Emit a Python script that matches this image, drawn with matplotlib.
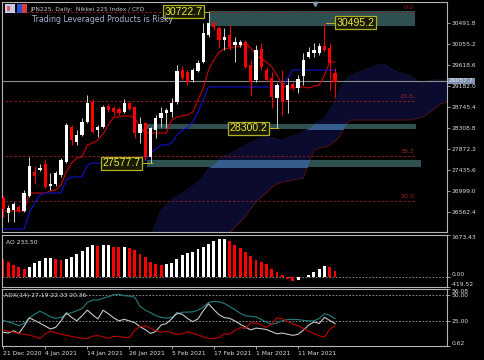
import numpy as np
import matplotlib
matplotlib.use("Agg")
import matplotlib.pyplot as plt
from matplotlib.patches import Rectangle

# ---- data (one value per daily bar, 21 Dec 2020 .. 22 Mar 2021)
opens = [26860, 26549, 26611, 26673, 26590, 26901, 27398, 27440, 27564, 27108,
         27150, 27336, 27605, 28330, 28020, 28165, 28434, 28848, 28268, 28330,
         28766, 28724, 28704, 28641, 28828, 28745, 28206, 28413, 27709, 28268,
         28517, 28621, 28641, 28848, 29512, 29470, 29304, 29491, 29677, 30237,
         30486, 30382, 30133, 30237, 30030, 30030, 30092, 29615, 29304, 29947,
         29512, 29346, 28931, 29242, 28890, 29222, 29139, 29387, 29781, 29864,
         29864, 30009, 29967, 29449]
highs = [26901, 26714, 26777, 26714, 27025, 27709, 27523, 27564, 27668, 27377,
         27419, 27688, 28413, 28372, 28268, 28517, 28994, 28911, 28372, 28786,
         28828, 28766, 28745, 28911, 28848, 28766, 28538, 28434, 28330, 28579,
         28745, 28724, 28931, 29615, 29594, 29512, 29553, 29719, 30486, 30722.7,
         30527, 30423, 30382, 30444, 30195, 30133, 30133, 29719, 30030, 30071,
         29574, 29470, 29242, 29512, 29346, 29263, 29408, 29864, 29988, 30071,
         30071, 30495.2, 30071, 29553]
lows = [26466, 26362, 26362, 26569, 26569, 26880, 27170, 27419, 27067, 27025,
        27108, 27295, 27585, 27958, 27958, 28144, 28413, 28206, 28123, 28310,
        28641, 28579, 28579, 28621, 28683, 28103, 27999, 27647, 27577.7, 28103,
        28330, 28310, 28538, 28807, 29304, 29201, 29263, 29470, 29657, 30195,
        30340, 29988, 29926, 29926, 29677, 29988, 29553, 28994, 29263, 29512,
        29263, 28724, 28300.2, 28579, 28621, 29097, 29035, 29201, 29760, 29781,
        29822, 29905, 29097, 28931]
closes = [26632, 26652, 26735, 26590, 26963, 27523, 27315, 27481, 27087, 27150,
          27377, 27647, 28372, 28061, 28165, 28434, 28828, 28227, 28330, 28745,
          28683, 28641, 28621, 28828, 28704, 28206, 28393, 27709, 28310, 28517,
          28621, 28683, 28828, 29491, 29346, 29263, 29512, 29657, 30278, 30486,
          30403, 30133, 30195, 29988, 30092, 30092, 29574, 29263, 29926, 29574,
          29304, 28952, 29201, 28848, 29201, 29139, 29325, 29719, 29885, 29926,
          30009, 29926, 29657, 29263]

tenkan = [26590, 26590, 26590, 26590, 26590, 26963, 26963, 26963, 26963, 27004,
          27025, 27129, 27398, 27585, 27688, 27709, 27958, 27999, 28061, 28186,
          28372, 28538, 28538, 28559, 28559, 28517, 28330, 28206, 28206, 28206,
          28206, 28206, 28476, 28538, 28559, 28579, 28641, 28890, 29139, 29512,
          29719, 29885, 29947, 29967, 29988, 30009, 30071, 29967, 29822, 29740,
          29677, 29574, 29408, 29201, 29139, 29139, 29160, 29160, 29139, 29180,
          29201, 29408, 29677, 29677]
kijun = [26217, 26217, 26217, 26217, 26217, 26549, 26756, 26922, 26963, 26963,
         26963, 26963, 27232, 27295, 27295, 27295, 27543, 27585, 27585, 27585,
         27585, 27585, 27585, 27585, 27585, 27585, 27585, 27647, 27792, 27875,
         27958, 27958, 27999, 28165, 28268, 28310, 28434, 28641, 28890, 29160,
         29160, 29160, 29160, 29160, 29160, 29160, 29160, 29160, 29160, 29160,
         29160, 29160, 29160, 29160, 29346, 29512, 29512, 29512, 29512, 29512,
         29512, 29512, 29512, 29512]

# Ichimoku cloud, bars 28 .. 85 (shifted forward)
cloud_x = list(range(28, 86))
span_a = [26072, 26321, 26611, 26735, 26818, 26901, 26963, 27025, 27108, 27191,
          27315, 27481, 27564, 27668, 27730, 27771, 27833, 27896, 27958, 28020,
          28061, 28123, 28123, 28103, 28082, 28061, 28103, 28144, 28186, 28248,
          28310, 28393, 28455, 28517, 28683, 28890, 29139, 29304, 29387, 29449,
          29491, 29532, 29574, 29615, 29636, 29594, 29512, 29470, 29429, 29408,
          29346, 29263, 29242, 29304, 29304, 29304, 29304, 29304]
span_b = [25300, 25350, 25400, 25450, 25500, 25560, 25620, 25680, 25740, 25800,
          25860, 25920, 25960, 26000, 26031, 26134, 26259, 26362, 26487, 26632,
          26777, 26880, 26963, 27087, 27150, 27191, 27212, 27232, 27253, 27274,
          27585, 27854, 27896, 27916, 27958, 28040, 28144, 28393, 28476, 28476,
          28476, 28476, 28476, 28476, 28476, 28476, 28476, 28476, 28476, 28476,
          28497, 28517, 28559, 28641, 28724, 28807, 28848, 28848]

ao = [690, 603, 469, 375, 308, 402, 536, 630, 737, 750,
      697, 683, 697, 804, 911, 1045, 1206, 1273, 1233, 1273,
      1280, 1193, 1179, 1190, 1166, 1072, 911, 777, 603, 496,
      456, 496, 563, 697, 871, 965, 1005, 1112, 1206, 1313,
      1434, 1501, 1508, 1447, 1273, 1139, 1005, 844, 670, 576,
      496, 295, 201, 80, -94, -174, -150, -27, 67, 201,
      295, 429, 402, 233.5]

adx = [25.7, 24, 22.5, 20.5, 22.5, 28, 31.5, 34.5, 32, 29,
       27.6, 28.5, 31.3, 33, 35, 37, 43, 45.4, 45.4, 47,
       48.6, 50.5, 51, 49.5, 49.2, 48, 39.2, 35.5, 33, 30.3,
       28.5, 27.6, 28.5, 31.5, 33.5, 33.6, 33.8, 35.5, 38.5, 42.9,
       43.9, 43.6, 42, 39, 36, 32.5, 30, 29.5, 28.9, 26.5,
       23.8, 21.8, 23, 25.3, 26.3, 26.6, 26.3, 25.6, 25.1, 25.1,
       27.5, 32, 30.5, 27.19]
plus_di = [14, 13.3, 15.5, 12.8, 20, 28, 25.5, 22.9, 20, 17.2,
           18.8, 25, 32.9, 28.5, 25.1, 30, 35.5, 31, 27, 35.4,
           32, 28, 25.1, 26.6, 25, 23.3, 19.5, 16.5, 12.8, 14.8,
           21, 22.5, 27, 32.9, 31.5, 27.5, 24.3, 27, 35, 41.7,
           36, 31, 28.2, 27.6, 25, 21.9, 19, 16.3, 18, 17.5,
           16.6, 14.5, 12.5, 13.2, 12, 11, 12, 16, 21, 24,
           22.5, 28.5, 25.5, 22.33]
minus_di = [16.3, 15, 14, 13, 12, 11.3, 9.7, 7.8, 12.5, 15,
            13.5, 12, 11, 10, 9, 8.3, 7.8, 10.2, 10.8, 9.5,
            8, 10, 10, 9, 9, 16, 19.5, 20.3, 18, 15.5,
            14, 15, 13.5, 12, 12.5, 14.5, 13, 11.3, 9.5, 8,
            7.8, 9, 12.5, 11.9, 16, 18.5, 17.8, 23, 23, 21,
            18.8, 22, 28.2, 27, 24.5, 22, 20.3, 17.5, 15, 12.8,
            10.5, 9.3, 17, 20.36]

date_bars = [0, 8, 16, 24, 32, 40, 48, 56]
date_labels = ['21 Dec 2020', '4 Jan 2021', '14 Jan 2021', '26 Jan 2021',
               '5 Feb 2021', '17 Feb 2021', '1 Mar 2021', '11 Mar 2021']

price_ticks = [30491.8, 30055.2, 29618.6, 29182.0, 28745.4, 28308.8,
               27872.2, 27435.6, 26999.0, 26562.4]

# support / resistance zones
zone_lo = [30434, 28279, 27512]
zone_hi = [30734, 28393, 27637]
zone_from = [39, 27.3, 27.3]
zone_to = [78.2, 78.4, 79.3]

# price tags
tag_prices = [30722.7, 30495.2, 28300.2, 27577.7]
tag_bars = [39, 61.3, 52.2, 28.3]

fib_high = 30722.7
fib_low = 22870
fib_levels = [0.0, 23.6, 38.2, 50.0]

line_price = 29284
line_label = '29057.7'

# ---- figure
W, H = 485, 360
fig = plt.figure(figsize=(W / 100, H / 100), dpi=100, facecolor='black')


def px_axes(x0, y0, x1, y1):
    return fig.add_axes([x0 / W, 1 - y1 / H, (x1 - x0) / W, (y1 - y0) / H])


ax = px_axes(2, 2, 447, 232)
ax_ao = px_axes(2, 235, 447, 287)
ax_adx = px_axes(2, 289, 447, 346)

FS = 4.3
GRAY = '#b4b4b4'
for a in (ax, ax_ao, ax_adx):
    a.set_facecolor('black')
    a.set_xlim(-0.19, 84.25)
    for s in a.spines.values():
        s.set_color(GRAY)
        s.set_linewidth(0.8)
    a.tick_params(axis='y', left=False, labelleft=False, right=True, labelright=True,
                  length=2, width=0.6, color=GRAY, labelcolor='#dcdcdc',
                  labelsize=FS, pad=1)
    a.tick_params(axis='x', bottom=False, labelbottom=False)

x = np.arange(len(opens))
o = np.array(opens)
c = np.array(closes)

# main panel
ax.set_ylim(26155, 30921)
ax.set_yticks(price_ticks)
ax.set_yticklabels([f'{v:.1f}' for v in price_ticks])

ax.fill_between(cloud_x, span_b, span_a, color='#0b0b30', lw=0, zorder=1)
ax.plot(cloud_x, span_b, color='#5c1010', lw=0.6, zorder=1.5)
ax.plot(cloud_x, span_a, color='#181848', lw=0.5, zorder=1.5)

for lo, hi, x0, x1 in zip(zone_lo, zone_hi, zone_from, zone_to):
    ax.add_patch(Rectangle((x0, lo), x1 - x0, hi - lo, color='#2e5050', lw=0, zorder=2))
    clip = Rectangle((x0, lo), x1 - x0, hi - lo, transform=ax.transData)
    ov = ax.fill_between(cloud_x, span_b, span_a, color='#355e8c', lw=0, zorder=2.5)
    ov.set_clip_path(clip)

span = fib_high - fib_low
for lvl in fib_levels:
    p = fib_high - span * lvl / 100
    ax.hlines(p, 0.4, 78.2, colors='#8b1a1a', linestyles=(0, (2.5, 2)), lw=0.7, zorder=3)
    ax.text(78.0, p + 40, f'{lvl:.1f}', ha='right', va='bottom', fontsize=4.6,
            color='#a02020', zorder=3)

ax.axhline(line_price, color='#8c8c8c', lw=0.8, zorder=3)
ax.text(1.004, line_price, line_label, transform=ax.get_yaxis_transform(),
        ha='left', va='center', fontsize=FS, color='#f0f0f0', zorder=10,
        bbox=dict(boxstyle='square,pad=0.15', fc='#7f93b0', ec='none'), clip_on=False)

ax.plot(x, tenkan, color='#d00000', lw=0.8, zorder=4)
ax.plot(x, kijun, color='#1010d0', lw=0.8, zorder=4)

up = c >= o
body_col = np.where(up, '#ffffff', '#ff0000')
wick_col = np.where(up, '#d0d0d0', '#ff0000')
ax.vlines(x, lows, highs, colors=wick_col, lw=0.7, zorder=5)
ax.bar(x, np.maximum(np.abs(c - o), 12), bottom=np.minimum(o, c), width=0.62,
       color=body_col, lw=0, zorder=6)

# price tags with leader lines
tag_x = [34.2, 66.9, 46.6, 22.5]
for p, bx, tx in zip(tag_prices, tag_bars, tag_x):
    ax.plot([tx, bx], [p, p], color='#b8b820', lw=0.7, zorder=6.5)
    ax.text(tx, p, f'{p:.1f}', ha='center', va='center', fontsize=7.6,
            family='Liberation Sans', color='#e8e84a', zorder=7,
            bbox=dict(boxstyle='square,pad=0.12', fc='#1a1a00', ec='#b0b020', lw=0.9))

ax.plot([59.2], [30885], marker='v', ms=3, color='#8898b8', zorder=8, clip_on=False)

# header texts and icons
fig.text(30 / W, 1 - 9 / H, 'JPN225, Daily:  Nikkei 225 Index / CFD', fontsize=4.3,
         color='#c8c8c8', va='center', ha='left')
fig.text(32 / W, 1 - 19.5 / H, 'Trading Leveraged Products is Risky', fontsize=5.6,
         color='#a8b4d4', va='center', ha='left')
fig.patches.append(Rectangle((5 / W, 1 - 13 / H), 10 / W, 9 / H, fc='#c8c8e8', ec='none',
                             transform=fig.transFigure))
fig.patches.append(Rectangle((7 / W, 1 - 11 / H), 3 / W, 5 / H, fc='#e05a5a', ec='none',
                             transform=fig.transFigure))
fig.patches.append(Rectangle((17 / W, 1 - 13 / H), 5 / W, 9 / H, fc='#3050d0', ec='none',
                             transform=fig.transFigure))
fig.patches.append(Rectangle((22 / W, 1 - 13 / H), 5 / W, 9 / H, fc='#d04040', ec='none',
                             transform=fig.transFigure))

# AO panel
ao_arr = np.array(ao)
ao_up = np.concatenate([[False], np.diff(ao_arr) > 0])
ax_ao.set_ylim(-419.52, 1673.43)
ax_ao.axhline(0, color='#9a9a9a', lw=0.6, ls=(0, (2, 2)), zorder=0)
ax_ao.bar(x, ao_arr, width=0.55, color=np.where(ao_up, '#ffffff', '#ff0000'), lw=0, zorder=2)
ax_ao.set_yticks([1673.43, 0, -419.52])
ax_ao.set_yticklabels(['1673.43', '0.00', '-419.52'])
lbls = ax_ao.get_yticklabels()
lbls[0].set_va('top')
lbls[1].set_va('bottom')
lbls[2].set_va('bottom')
ax_ao.text(0.008, 0.9, 'AO 233.50', transform=ax_ao.transAxes, fontsize=FS,
           color='#e0e0e0', va='top', ha='left')

# ADX panel
ax_adx.set_ylim(0.62, 56.08)
for lv in (50, 25):
    ax_adx.axhline(lv, color='#a0a0a0', lw=0.6, ls=(0, (2, 2)), zorder=0)
ax_adx.plot(x, adx, color='#208080', lw=0.8, zorder=3)
ax_adx.plot(x, plus_di, color='#c8c8c8', lw=0.8, zorder=3)
ax_adx.plot(x, minus_di, color='#c00000', lw=0.8, zorder=3)
ax_adx.set_yticks([56.08, 50, 25, 0.62])
ax_adx.set_yticklabels(['56.08', '50.00', '25.00', '0.62'])
lbls = ax_adx.get_yticklabels()
lbls[0].set_va('top')
lbls[3].set_va('bottom')
ax_adx.text(0.004, 0.93, 'ADX(14) 27.19 22.33 20.36', transform=ax_adx.transAxes,
            fontsize=FS, color='#e0e0e0', va='top', ha='left')

ax_adx.tick_params(axis='x', bottom=True, labelbottom=True, length=2, width=0.6,
                   color=GRAY, labelcolor='#e0e0e0', labelsize=FS, pad=1.5)
ax_adx.set_xticks(date_bars)
ax_adx.set_xticklabels(date_labels, ha='left')

fig.savefig('out.png', dpi=100, facecolor='black')
